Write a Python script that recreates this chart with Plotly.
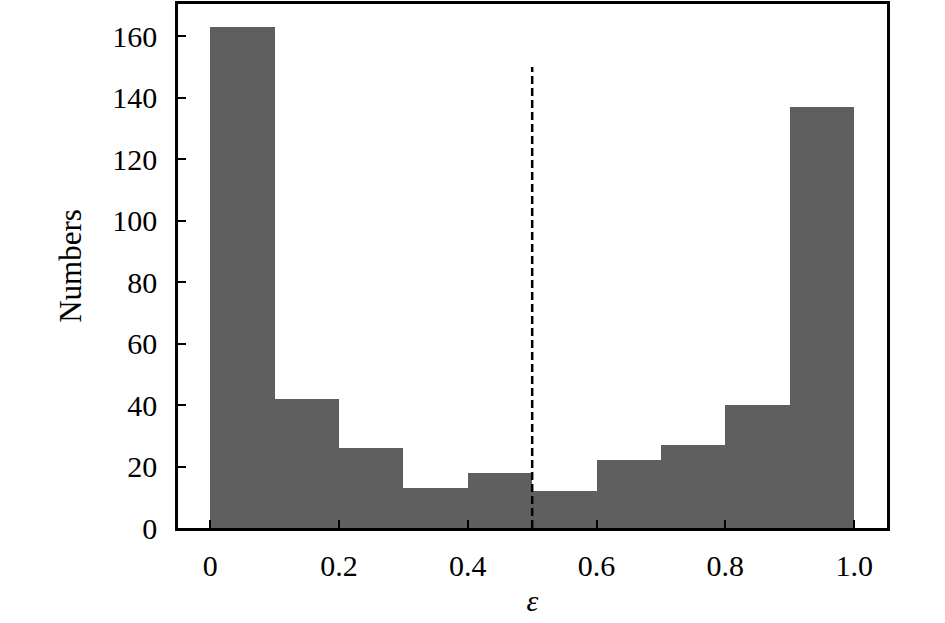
import plotly.graph_objects as go

# histogram of epsilon, 10 bins on [0, 1]
bin_left = [0.0, 0.1, 0.2, 0.3, 0.4, 0.5, 0.6, 0.7, 0.8, 0.9]
counts = [163, 42, 26, 13, 18, 12, 22, 27, 40, 137]
bin_width = 0.1

threshold_x = [0.5, 0.5]
threshold_y = [0, 150]

x_tickvals = [0, 0.2, 0.4, 0.6, 0.8, 1.0]
x_ticktext = ["0", "0.2", "0.4", "0.6", "0.8", "1.0"]
y_tickvals = [0, 20, 40, 60, 80, 100, 120, 140, 160]

font = "Liberation Serif, Times New Roman, serif"

bars = go.Bar(
    x=[b + bin_width / 2 for b in bin_left],
    y=counts,
    width=bin_width,
    marker=dict(color="#5f5f5f", line=dict(width=0)),
    showlegend=False,
)

line = go.Scatter(
    x=threshold_x,
    y=threshold_y,
    mode="lines",
    line=dict(color="black", width=2.5, dash="8px,4px"),
    showlegend=False,
)

fig = go.Figure([bars, line])

fig.update_layout(
    width=945,
    height=623,
    margin=dict(l=178, r=58, t=1, b=95),
    plot_bgcolor="white",
    paper_bgcolor="white",
    bargap=0,
    font=dict(family=font, size=30, color="black"),
)

fig.update_xaxes(
    range=[-0.05, 1.051],
    tickvals=x_tickvals,
    ticktext=x_ticktext,
    ticks="inside",
    ticklen=8,
    tickwidth=2,
    tickcolor="black",
    showline=True,
    linecolor="black",
    linewidth=2.5,
    mirror=True,
    showgrid=False,
    zeroline=False,
    ticklabelstandoff=9,
    title=dict(text="<i>ε</i>", standoff=10, font=dict(size=30)),
)

fig.update_yaxes(
    range=[0, 170.5],
    tickvals=y_tickvals,
    ticks="inside",
    ticklen=8,
    tickwidth=2,
    tickcolor="black",
    showline=True,
    linecolor="black",
    linewidth=2.5,
    mirror=True,
    showgrid=False,
    zeroline=False,
    ticklabelstandoff=12,
    title=dict(text="Numbers", standoff=22, font=dict(size=31)),
)

# drop the default page margin so the figure sits at the window's corner
fig.write_html(
    "out.html",
    config={"displayModeBar": False},
    post_script="document.body.style.margin='0';",
)
